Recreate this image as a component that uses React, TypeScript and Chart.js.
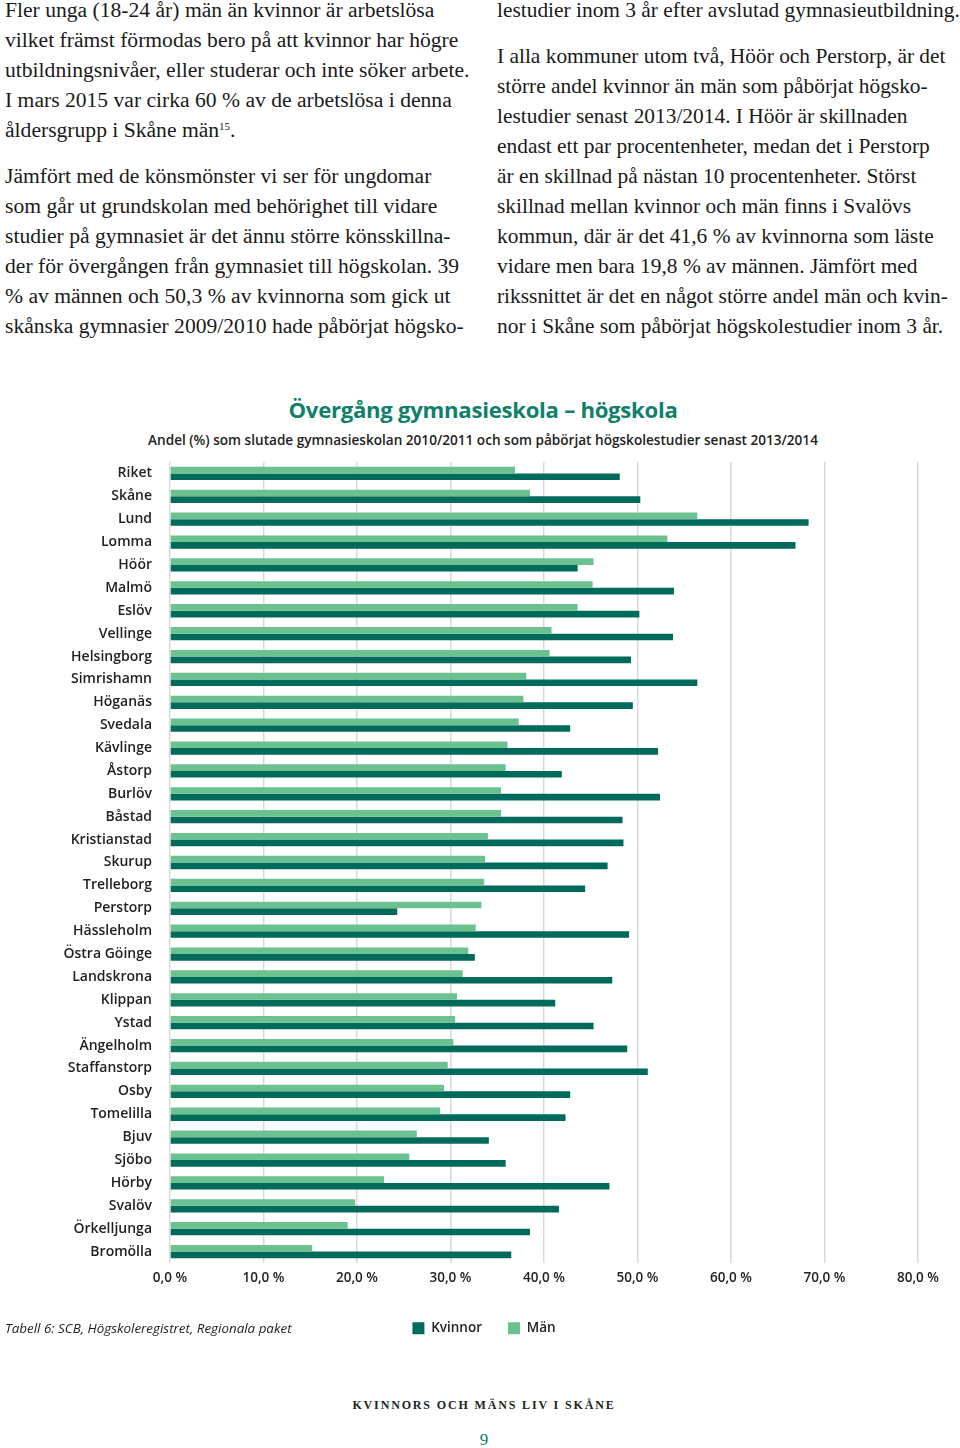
import React, { useEffect, useRef } from "react";
import { Chart, registerables } from "chart.js";

Chart.register(...registerables);

const categories = [
  "Riket", "Skåne", "Lund", "Lomma", "Höör", "Malmö", "Eslöv", "Vellinge",
  "Helsingborg", "Simrishamn", "Höganäs", "Svedala", "Kävlinge", "Åstorp",
  "Burlöv", "Båstad", "Kristianstad", "Skurup", "Trelleborg", "Perstorp",
  "Hässleholm", "Östra Göinge", "Landskrona", "Klippan", "Ystad", "Ängelholm",
  "Staffanstorp", "Osby", "Tomelilla", "Bjuv", "Sjöbo", "Hörby", "Svalöv",
  "Örkelljunga", "Bromölla",
];

const manValues = [
  36.9, 38.5, 56.4, 53.2, 45.3, 45.2, 43.6, 40.8, 40.6, 38.1, 37.8, 37.3,
  36.1, 35.9, 35.4, 35.4, 34.0, 33.7, 33.6, 33.3, 32.7, 31.9, 31.3, 30.7,
  30.5, 30.3, 29.7, 29.3, 28.9, 26.4, 25.6, 22.9, 19.8, 19.0, 15.2,
];

const kvinnorValues = [
  48.1, 50.3, 68.3, 66.9, 43.6, 53.9, 50.2, 53.8, 49.3, 56.4, 49.5, 42.8,
  52.2, 41.9, 52.4, 48.4, 48.5, 46.8, 44.4, 24.3, 49.1, 32.6, 47.3, 41.2,
  45.3, 48.9, 51.1, 42.8, 42.3, 34.1, 35.9, 47.0, 41.6, 38.5, 36.5,
];

const seriesLabels = ["Män", "Kvinnor"];
const xMin = 0;
const xMax = 80;
const xStep = 10;

const leftColumn = [
  ["Fler unga (18-24 år) män än kvinnor är arbetslösa", 10],
  ["vilket främst förmodas bero på att kvinnor har högre", 40],
  ["utbildningsnivåer, eller studerar och inte söker arbete.", 70],
  ["I mars 2015 var cirka 60 % av de arbetslösa i denna", 100],
  ["åldersgrupp i Skåne män", 130, "15", "."],
  ["Jämfört med de könsmönster vi ser för ungdomar", 176],
  ["som går ut grundskolan med behörighet till vidare", 206],
  ["studier på gymnasiet är det ännu större könsskillna-", 236],
  ["der för övergången från gymnasiet till högskolan. 39", 266],
  ["% av männen och 50,3 % av kvinnorna som gick ut", 296],
  ["skånska gymnasier 2009/2010 hade påbörjat högsko-", 326],
];

const rightColumn = [
  ["lestudier inom 3 år efter avslutad gymnasieutbildning.", 10],
  ["I alla kommuner utom två, Höör och Perstorp, är det", 56],
  ["större andel kvinnor än män som påbörjat högsko-", 86],
  ["lestudier senast 2013/2014. I Höör är skillnaden", 116],
  ["endast ett par procentenheter, medan det i Perstorp", 146],
  ["är en skillnad på nästan 10 procentenheter. Störst", 176],
  ["skillnad mellan kvinnor och män finns i Svalövs", 206],
  ["kommun, där är det 41,6 % av kvinnorna som läste", 236],
  ["vidare men bara 19,8 % av männen. Jämfört med", 266],
  ["rikssnittet är det en något större andel män och kvin-", 296],
  ["nor i Skåne som påbörjat högskolestudier inom 3 år.", 326],
];

const DARK = "#006b5b";
const LIGHT = "#6bc18f";
const TITLE_COLOR = "#108069";
const SANS = "'Open Sans', 'Noto Sans', sans-serif";
const SERIF = "'Liberation Serif', 'DejaVu Serif', serif";

function TextLines({ lines, left, size }: { lines: any[]; left: number; size: number }) {
  return (
    <>
      {lines.map((l, i) => (
        <div
          key={i}
          style={{
            position: "absolute",
            left,
            top: (l[1] as number) - 15,
            height: 30,
            lineHeight: "30px",
            whiteSpace: "nowrap",
            fontFamily: SERIF,
            fontSize: size,
            color: "#1a1a1a",
          }}
        >
          {l[0]}
          {l[2] ? (
            <sup style={{ fontSize: 11, verticalAlign: "top", lineHeight: "22px" }}>{l[2]}</sup>
          ) : null}
          {l[3] || null}
        </div>
      ))}
    </>
  );
}

export default function App() {
  const canvasRef = useRef<HTMLCanvasElement | null>(null);

  useEffect(() => {
    const canvas = canvasRef.current;
    if (!canvas) return;
    const chart = new Chart(canvas, {
      type: "bar",
      data: {
        labels: categories,
        datasets: [
          {
            label: seriesLabels[0],
            data: manValues,
            backgroundColor: LIGHT,
            borderWidth: 0,
            categoryPercentage: 0.58,
            barPercentage: 1.0,
          },
          {
            label: seriesLabels[1],
            data: kvinnorValues,
            backgroundColor: DARK,
            borderWidth: 0,
            categoryPercentage: 0.58,
            barPercentage: 1.0,
          },
        ],
      },
      options: {
        indexAxis: "y",
        animation: false,
        responsive: false,
        maintainAspectRatio: false,
        devicePixelRatio: 1,
        layout: { padding: { top: 7, left: 50, right: 42, bottom: 0 } },
        scales: {
          x: {
            min: xMin,
            max: xMax,
            ticks: {
              stepSize: xStep,
              padding: 7,
              color: "#222",
              font: { family: SANS, size: 13.5, weight: 600 },
              callback: (v: any) => Number(v).toFixed(1).replace(".", ",") + " %",
            },
            grid: { color: "#d9d9d9", lineWidth: 1.5, drawTicks: false },
            border: { display: false },
            afterFit: (s: any) => {
              s.height = 32.5;
            },
          },
          y: {
            ticks: {
              padding: 18,
              color: "#222",
              font: { family: SANS, size: 14, weight: 600 },
              autoSkip: false,
            },
            grid: { display: false, drawTicks: false },
            border: { display: false },
            afterFit: (s: any) => {
              s.width = 120;
              s.paddingTop = 0;
              s.paddingBottom = 0;
            },
          },
        },
        plugins: {
          title: { display: false },
          tooltip: { enabled: false },
          legend: {
            display: true,
            position: "bottom",
            reverse: true,
            labels: {
              boxWidth: 12,
              boxHeight: 12,
              padding: 26,
              color: "#222",
              font: { family: SANS, size: 13.5, weight: 600 },
            },
          },
        },
      },
    });
    return () => chart.destroy();
  }, []);

  return (
    <div
      style={{
        position: "relative",
        width: 960,
        height: 1448,
        overflow: "hidden",
        background: "#fff",
      }}
    >
      <style>{`body{margin:0;}`}</style>
      <TextLines lines={leftColumn} left={5} size={21.6} />
      <TextLines lines={rightColumn} left={497} size={21.4} />

      <div
        style={{
          position: "absolute",
          left: 0,
          width: 966,
          top: 395,
          textAlign: "center",
          fontFamily: SANS,
          fontWeight: 700,
          fontSize: 22.2,
          color: TITLE_COLOR,
          lineHeight: "30px",
          letterSpacing: -0.3,
        }}
      >
        Övergång gymnasieskola – högskola
      </div>
      <div
        style={{
          position: "absolute",
          left: 0,
          width: 966,
          top: 431,
          textAlign: "center",
          fontFamily: SANS,
          fontWeight: 600,
          fontSize: 13.6,
          color: "#222",
          lineHeight: "18px",
        }}
      >
        Andel (%) som slutade gymnasieskolan 2010/2011 och som påbörjat högskolestudier senast 2013/2014
      </div>

      <canvas
        ref={canvasRef}
        width={960}
        height={890}
        style={{ position: "absolute", left: 0, top: 455, width: 960, height: 890 }}
      />

      <div
        style={{
          position: "absolute",
          left: 5,
          top: 1319,
          fontFamily: SANS,
          fontStyle: "italic",
          fontSize: 13.4,
          color: "#222",
          lineHeight: "18px",
          whiteSpace: "nowrap",
        }}
      >
        Tabell 6: SCB, Högskoleregistret, Regionala paket
      </div>

      <div
        style={{
          position: "absolute",
          left: 0,
          width: 968,
          top: 1396,
          textAlign: "center",
          fontFamily: SERIF,
          fontSize: 12,
          fontWeight: 700,
          letterSpacing: 1.85,
          color: "#222",
          lineHeight: "18px",
        }}
      >
        KVINNORS OCH MÄNS LIV I SKÅNE
      </div>
      <div
        style={{
          position: "absolute",
          left: 0,
          width: 968,
          top: 1429,
          textAlign: "center",
          fontFamily: SERIF,
          fontSize: 17,
          color: TITLE_COLOR,
          lineHeight: "22px",
        }}
      >
        9
      </div>
    </div>
  );
}
